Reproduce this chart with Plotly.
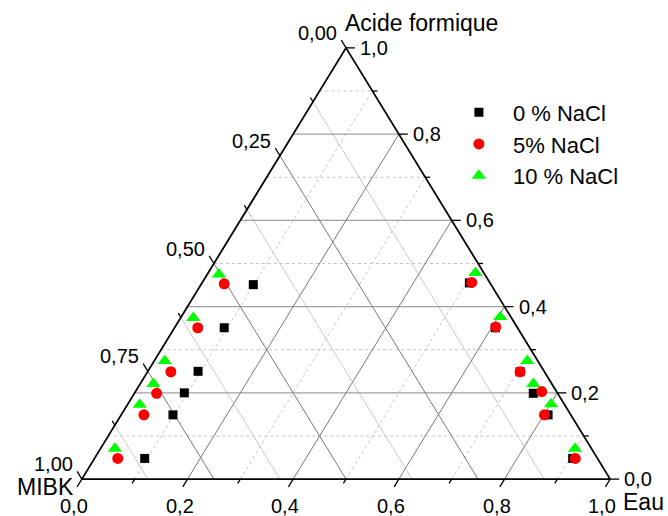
import plotly.graph_objects as go

# Tie-line end points (mass fractions): six organic-phase points, then six aqueous-phase points
mibk_0 = [0.450, 0.555, 0.655, 0.706, 0.753, 0.857, 0.039, 0.042, 0.046, 0.046, 0.043, 0.047]
eau_0 = [0.099, 0.094, 0.095, 0.094, 0.098, 0.095, 0.506, 0.607, 0.705, 0.755, 0.808, 0.905]
acide_0 = [0.451, 0.351, 0.250, 0.200, 0.149, 0.048, 0.455, 0.351, 0.249, 0.199, 0.149, 0.048]

mibk_5 = [0.504, 0.605, 0.707, 0.759, 0.808, 0.908, 0.034, 0.040, 0.046, 0.028, 0.050, 0.042]
eau_5 = [0.043, 0.044, 0.044, 0.042, 0.043, 0.044, 0.510, 0.607, 0.705, 0.769, 0.801, 0.910]
acide_5 = [0.453, 0.351, 0.249, 0.199, 0.149, 0.048, 0.456, 0.353, 0.249, 0.203, 0.149, 0.048]

mibk_10 = [0.503, 0.602, 0.706, 0.754, 0.804, 0.902, 0.016, 0.020, 0.020, 0.035, 0.025, 0.031]
eau_10 = [0.022, 0.024, 0.020, 0.025, 0.023, 0.027, 0.506, 0.604, 0.706, 0.744, 0.801, 0.898]
acide_10 = [0.475, 0.374, 0.274, 0.221, 0.173, 0.071, 0.478, 0.376, 0.274, 0.221, 0.174, 0.071]

series_names = ["0 % NaCl", "5% NaCl", "10 % NaCl"]

# Axis ticks
eau_major = [0.0, 0.2, 0.4, 0.6, 0.8, 1.0]
eau_minor = [0.1, 0.3, 0.5, 0.7, 0.9]
acide_major = [0.0, 0.2, 0.4, 0.6, 0.8, 1.0]
acide_minor = [0.1, 0.3, 0.5, 0.7, 0.9]
mibk_major = [0.0, 0.25, 0.5, 0.75, 1.0]
mibk_minor = [0.125, 0.375, 0.625, 0.875]

FONT = "Liberation Sans, Arial, sans-serif"
PX_X = 528.0  # pixels per unit along the base
PX_Y = 431.0  # pixels per unit of height
EDGE_PX = (0.5 ** 2 * PX_X ** 2 + PX_Y ** 2) ** 0.5


def proj(mibk, eau, acide):
    """Ternary composition -> planar coordinates (MIBK left, Eau right, acid top)."""
    s = mibk + eau + acide
    return (eau + acide / 2) / s, acide / s


def seg_trace(segs, color, width, dash="solid"):
    xs, ys = [], []
    for (x0, y0), (x1, y1) in segs:
        xs += [x0, x1, None]
        ys += [y0, y1, None]
    return go.Scatter(x=xs, y=ys, mode="lines", line=dict(color=color, width=width, dash=dash),
                      hoverinfo="skip", showlegend=False, cliponaxis=False)


def fmt(v, nd):
    return f"{v:.{nd}f}".replace(".", ",")


fig = go.Figure()

# Grid lines
acid_lines = lambda vals: [(proj(1 - a, 0, a), proj(0, 1 - a, a)) for a in vals]
eau_lines = lambda vals: [(proj(1 - e, e, 0), proj(0, e, 1 - e)) for e in vals]
mibk_lines = lambda vals: [(proj(m, 0, 1 - m), proj(m, 1 - m, 0)) for m in vals]

fig.add_trace(seg_trace(acid_lines(acide_minor), "#c4c4c4", 1, "dot"))
fig.add_trace(seg_trace(eau_lines(eau_minor), "#c4c4c4", 1, "dot"))
fig.add_trace(seg_trace(mibk_lines(mibk_minor), "#c8c8c8", 1))
fig.add_trace(seg_trace(acid_lines(acide_major[1:-1]), "#a0a0a0", 1.3))
fig.add_trace(seg_trace(eau_lines(eau_major[1:-1]), "#787878", 1))
fig.add_trace(seg_trace(mibk_lines(mibk_major[1:-1]), "#787878", 1))

# Tick marks
def bottom_ticks(vals, L):
    d = L / EDGE_PX
    out = []
    for e in vals:
        x, y = proj(1 - e, e, 0)
        out.append(((x, y), (x - 0.5 * d, y - d)))
    return out


def left_ticks(vals, L):
    d = L / EDGE_PX
    out = []
    for m in vals:
        x, y = proj(m, 0, 1 - m)
        out.append(((x, y), (x - 0.5 * d, y + d)))
    return out


def right_ticks(vals, L):
    out = []
    for a in vals:
        x, y = proj(0, 1 - a, a)
        out.append(((x, y), (x + L / PX_X, y)))
    return out


MAJ, MIN = 9, 5
ticks = (bottom_ticks(eau_major, MAJ) + bottom_ticks(eau_minor, MIN)
         + left_ticks(mibk_major, MAJ) + left_ticks(mibk_minor, MIN)
         + right_ticks(acide_major, MAJ) + right_ticks(acide_minor, MIN))
fig.add_trace(seg_trace(ticks, "black", 1.3))

# Triangle frame
corners = [proj(1, 0, 0), proj(0, 1, 0), proj(0, 0, 1), proj(1, 0, 0)]
fig.add_trace(go.Scatter(x=[c[0] for c in corners], y=[c[1] for c in corners], mode="lines",
                         line=dict(color="black", width=1.8), hoverinfo="skip",
                         showlegend=False, cliponaxis=False))

# Data points
data = [(mibk_0, eau_0, acide_0, "square", "black", 9),
        (mibk_5, eau_5, acide_5, "circle", "red", 11),
        (mibk_10, eau_10, acide_10, "triangle-up", "#00ff00", 12.5)]
for name, (m, e, a, sym, col, size) in zip(series_names, data):
    pts = [proj(mi, ei, ai) for mi, ei, ai in zip(m, e, a)]
    fig.add_trace(go.Scatter(x=[p[0] for p in pts], y=[p[1] for p in pts], mode="markers",
                             name=name, marker=dict(symbol=sym, color=col, size=size),
                             cliponaxis=False))

# Tick labels
ann = []
tick_font = dict(family=FONT, size=20, color="black")
for e in eau_major:
    x, y = proj(1 - e, e, 0)
    ann.append(dict(x=x, y=y, text=fmt(e, 1), xanchor="center", yanchor="middle",
                    xshift=-8, yshift=-27, showarrow=False, font=tick_font))
for a in acide_major:
    x, y = proj(0, 1 - a, a)
    ann.append(dict(x=x, y=y, text=fmt(a, 1), xanchor="left", yanchor="middle",
                    xshift=MAJ + 3, yshift=0, showarrow=False, font=tick_font))
for m in mibk_major:
    x, y = proj(m, 0, 1 - m)
    ann.append(dict(x=x, y=y, text=fmt(m, 2), xanchor="right", yanchor="middle",
                    xshift=-7, yshift=15, showarrow=False, font=tick_font))

# Axis titles at the corners
title_font = dict(family=FONT, size=23, color="black")
tx, ty = proj(0, 0, 1)
ann.append(dict(x=tx, y=ty, text="Acide formique", xanchor="left", yanchor="middle",
                xshift=-3, yshift=25, showarrow=False, font=title_font))
lx, ly = proj(1, 0, 0)
ann.append(dict(x=lx, y=ly, text="MIBK", xanchor="right", yanchor="middle",
                xshift=-6, yshift=-8, showarrow=False, font=title_font))
rx, ry = proj(0, 1, 0)
ann.append(dict(x=rx, y=ry, text="Eau", xanchor="left", yanchor="middle",
                xshift=11, yshift=-23, showarrow=False, font=title_font))

fig.update_layout(
    width=668, height=516,
    margin=dict(l=29.2, r=5.2, t=22.14, b=11.14, pad=0, autoexpand=False),
    paper_bgcolor="white", plot_bgcolor="white",
    xaxis=dict(range=[-0.1, 1.1], visible=False, fixedrange=True),
    yaxis=dict(range=[-0.06, 1.06], visible=False, fixedrange=True),
    annotations=ann,
    showlegend=True,
    legend=dict(x=0.656, y=0.856, xanchor="left", yanchor="top", bgcolor="rgba(0,0,0,0)",
                font=dict(family=FONT, size=22, color="black"), itemwidth=58,
                tracegroupgap=0),
    font=dict(family=FONT),
)

fig.write_html("out.html")
